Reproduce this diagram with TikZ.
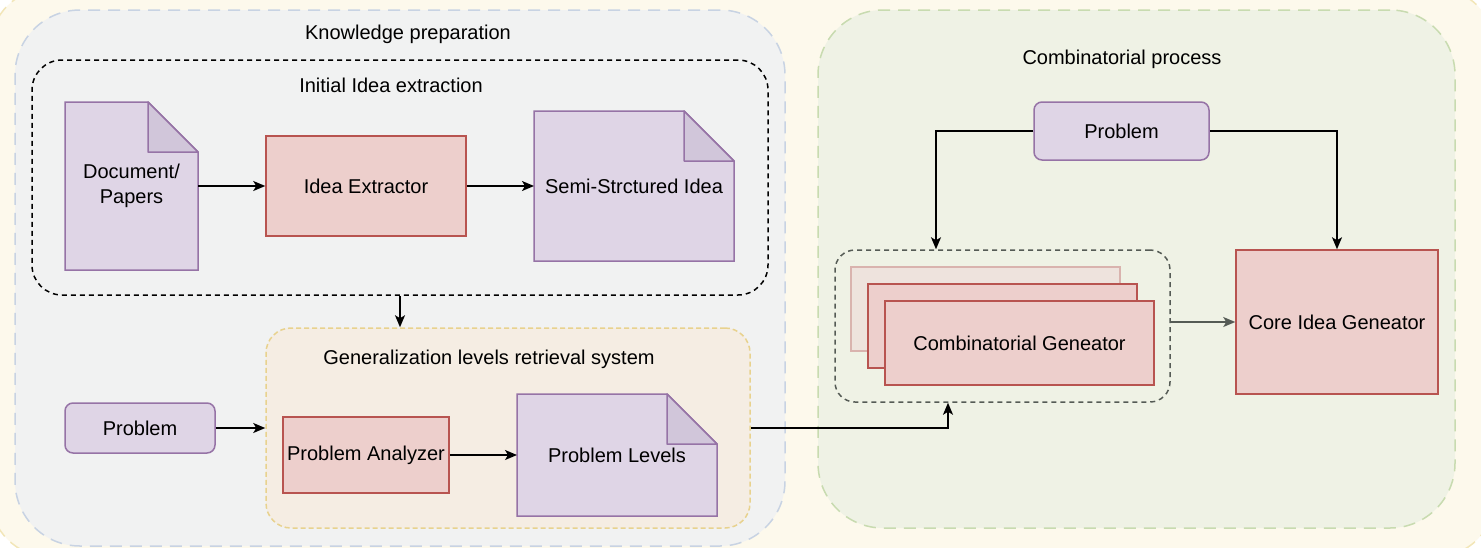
\documentclass[tikz,border=0pt]{standalone}
\usepackage{fontspec}
\setmainfont{Liberation Sans}
\usetikzlibrary{arrows.meta}

\definecolor{cream}{HTML}{FDF9EC}
\definecolor{creamline}{HTML}{F2E6B8}
\definecolor{kpfill}{HTML}{F1F2F2}
\definecolor{kpline}{HTML}{C8D3E3}
\definecolor{cpfill}{HTML}{EFF2E5}
\definecolor{cpline}{HTML}{C8DBB0}
\definecolor{genfill}{HTML}{F5EDE3}
\definecolor{genline}{HTML}{E8D28E}
\definecolor{docfill}{HTML}{DFD5E6}
\definecolor{docline}{HTML}{9673A6}
\definecolor{foldfill}{HTML}{D1C6DA}
\definecolor{redfill}{HTML}{EDCFCC}
\definecolor{redline}{HTML}{B85450}
\definecolor{fadefill}{HTML}{EEE3DD}
\definecolor{fadeline}{HTML}{D9B3AE}
\definecolor{arrowgrey}{HTML}{555B55}

\tikzset{
  txt/.style={font=\fontsize{20}{25}\selectfont},
  group/.style={rectangle, rounded corners=#1, line width=1.5pt, inner sep=0pt},
  redbox/.style={txt, rectangle, draw=redline, fill=redfill, line width=1.5pt},
  probbox/.style={txt, rectangle, rounded corners=8pt, draw=docline, fill=docfill, line width=1.5pt},
  docshape/.style={fill=docfill, draw=docline, line width=1.5pt},
  foldshape/.style={fill=foldfill, draw=docline, line width=1.5pt, line join=round},
}

% document with folded corner: name, centre, width, height, text
\newcommand{\paperdoc}[5]{%
  \node[inner sep=0pt, outer sep=0pt, minimum width=#3, minimum height=#4] (#1) at (#2) {};
  \filldraw[docshape] (#1.north west) -- ([xshift=-50pt]#1.north east) -- ([yshift=-50pt]#1.north east)
    -- (#1.south east) -- (#1.south west) -- cycle;
  \filldraw[foldshape] ([xshift=-50pt]#1.north east) -- ([xshift=-50pt,yshift=-50pt]#1.north east)
    -- ([yshift=-50pt]#1.north east) -- cycle;
  \node[txt, align=center] (#1text) at (#1) {#5};
}

\begin{document}
\begin{tikzpicture}[x=1pt, y=-1pt, >={Stealth[length=12pt,width=10pt,inset=3pt]}]
    \useasboundingbox (0,0) rectangle (1481,547);
    \filldraw[fill=cream, draw=creamline, line width=1.5pt, dash pattern=on 12pt off 8pt, rounded corners=60pt]
        (-10,-12) rectangle (1495,557);

    % groups
    \node[group=65pt, fill=kpfill, draw=kpline, dash pattern=on 12pt off 8pt,
          minimum width=770, minimum height=536] (kp) at (400,278) {};
    \node[group=65pt, fill=cpfill, draw=cpline, dash pattern=on 12pt off 8pt,
          minimum width=637, minimum height=518] (cp) at (1136.5,269) {};
    \node[group=30pt, draw=black, dash pattern=on 5pt off 4pt,
          minimum width=736, minimum height=235] (init) at (400,177.5) {};
    \node[group=25pt, fill=genfill, draw=genline, dash pattern=on 5pt off 3pt,
          minimum width=484, minimum height=200] (gen) at (508,428) {};
    \node[group=20pt, draw=arrowgrey, dash pattern=on 5pt off 4pt,
          minimum width=335, minimum height=152] (cg) at (1002.5,326) {};

    \begin{scope}[every node/.style={txt}]
        \node (kptitle) at (408,34) {Knowledge preparation};
        \node (inittitle) at (391,85) {Initial Idea extraction};
        \node (gentitle) at (489,359) {Generalization levels retrieval system};
        \node (cptitle) at (1122,59) {Combinatorial process};
    \end{scope}

    % knowledge preparation
    \paperdoc{doc}{131.5,186}{133}{168}{Document/\\Papers}
    \node[redbox, minimum width=200, minimum height=100] (ext) at (366,186) {Idea Extractor};
    \paperdoc{semi}{634,186}{200}{150}{Semi-Strctured Idea}
    \node[probbox, minimum width=150, minimum height=50] (prob1) at (140,428) {Problem};
    \node[redbox, minimum width=166, minimum height=76, inner sep=2pt] (ana) at (366,455) {Problem Analyzer};
    \paperdoc{lev}{617,455}{200}{122}{Problem Levels}

    % combinatorial process
    \node[probbox, minimum width=175, minimum height=58] (prob2) at (1121.5,131) {Problem};
    \node[rectangle, draw=fadeline, fill=fadefill, line width=1.5pt,
          minimum width=269, minimum height=84] (cgback) at (985.5,309) {};
    \node[redbox, minimum width=269, minimum height=84] (cgmid) at (1002.5,326) {};
    \node[redbox, minimum width=269, minimum height=84] (cgfront) at (1019.5,343) {Combinatorial Geneator};
    \node[redbox, minimum width=202, minimum height=144] (core) at (1337,322) {Core Idea Geneator};

    \begin{scope}[line width=1.5pt]
        \draw[->] (doc) -- (ext);
        \draw[->] (ext) -- (semitext.west -| semi.west);
        \draw[->] (init.south) -- (init.south |- gen.north);
        \draw[->] (prob1.east) -- (gen.west);
        \draw[->] (ana) -- (lev.west |- ana.east);
        \draw[->] (gen.east) -| ([xshift=-54.5pt]cg.south);
        \draw[->] (prob2.west) -| ([xshift=-66.5pt]cg.north);
        \draw[->] (prob2.east) -| (core.north);
        \draw[->, arrowgrey] (cg.east |- core.west) -- (core.west);
    \end{scope}
\end{tikzpicture}
\end{document}
